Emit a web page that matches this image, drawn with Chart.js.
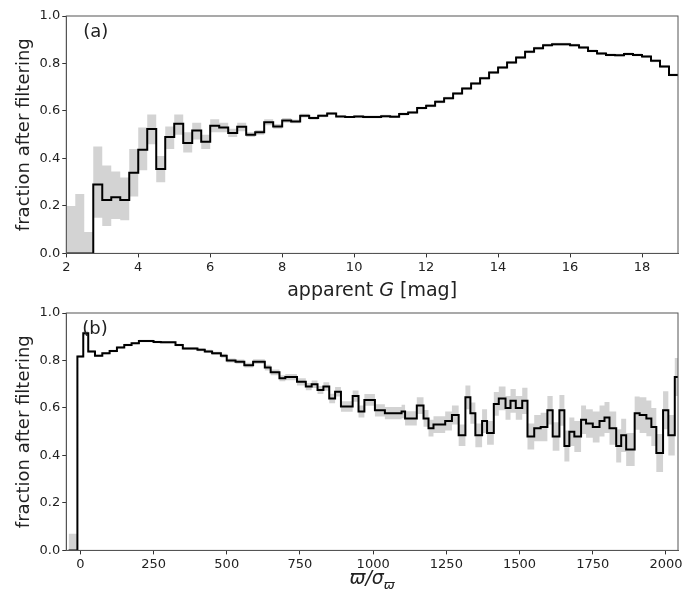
<!DOCTYPE html>
<html>
<head>
<meta charset="utf-8">
<script src="https://cdn.jsdelivr.net/npm/chart.js@4.4.1/dist/chart.umd.min.js"></script>
<style>
  body { margin: 0; background: #fff; }
  .panel { position: absolute; left: 0; width: 686px; height: 300px; }
</style>
</head>
<body>
<div class="panel" style="top:0"><canvas id="chartA"></canvas></div>
<div class="panel" style="top:297px"><canvas id="chartB"></canvas></div>
<script>
// panel (a): apparent G, bins of 0.25 mag starting at 2.0
const gStart = 2.0;
const gWidth = 0.25;
const gFrac = [0, 0, 0, 0.29, 0.225, 0.237, 0.225, 0.34, 0.437, 0.524, 0.355, 0.49, 0.546, 0.465, 0.518, 0.47,
  0.538, 0.53, 0.507, 0.533, 0.50, 0.51, 0.552, 0.535, 0.56, 0.556, 0.58, 0.57, 0.58, 0.589, 0.577, 0.575,
  0.577, 0.575, 0.575, 0.578, 0.576, 0.587, 0.594, 0.612, 0.622, 0.639, 0.654, 0.674, 0.695, 0.716, 0.738, 0.762,
  0.783, 0.804, 0.825, 0.849, 0.864, 0.877, 0.881, 0.881, 0.877, 0.867, 0.853, 0.842, 0.836, 0.835, 0.84, 0.836,
  0.829, 0.811, 0.787, 0.752];
const gLow = [0, 0, 0, 0.15, 0.115, 0.145, 0.14, 0.24, 0.35, 0.46, 0.30, 0.44, 0.50, 0.425, 0.48, 0.44,
  0.51, 0.51, 0.49, 0.515, 0.49, 0.50, 0.54, 0.525, 0.55, 0.548, 0.572, 0.563, 0.574, 0.583, 0.572, 0.571];
const gHigh = [0.20, 0.25, 0.09, 0.45, 0.37, 0.345, 0.32, 0.44, 0.53, 0.585, 0.41, 0.535, 0.585, 0.51, 0.55, 0.50,
  0.565, 0.55, 0.525, 0.55, 0.51, 0.52, 0.565, 0.545, 0.57, 0.564, 0.588, 0.577, 0.586, 0.595, 0.582, 0.579];

// panel (b): parallax over error, irregular bins (left edges + final right edge)
const pEdges = [-40, -10, 10, 27, 50, 75, 100, 125, 150, 175, 200, 250, 275, 325, 350, 400, 425, 450, 480, 500,
  530, 560, 590, 630, 650, 680, 700, 740, 770, 790, 810, 830, 850, 870, 890, 910, 930, 950, 970, 1006,
  1040, 1097, 1109, 1149, 1172, 1189, 1206, 1246, 1269, 1292, 1315, 1332, 1349, 1372, 1389, 1412, 1429, 1452, 1469, 1487,
  1509, 1527, 1550, 1572, 1595, 1613, 1636, 1653, 1670, 1687, 1710, 1727, 1750, 1773, 1790, 1807, 1830, 1847, 1864, 1893,
  1910, 1933, 1950, 1967, 1990, 2008, 2030, 2045];
const pFrac = [0, 0.817, 0.915, 0.838, 0.82, 0.83, 0.84, 0.855, 0.865, 0.873, 0.882, 0.878, 0.877, 0.865, 0.85, 0.845,
  0.838, 0.83, 0.82, 0.80, 0.795, 0.78, 0.795, 0.77, 0.75, 0.725, 0.73, 0.71, 0.69, 0.70, 0.676, 0.69,
  0.64, 0.668, 0.606, 0.606, 0.65, 0.585, 0.634, 0.59, 0.578, 0.585, 0.556, 0.61, 0.556, 0.515, 0.53, 0.545,
  0.57, 0.485, 0.645, 0.578, 0.485, 0.545, 0.495, 0.617, 0.64, 0.60, 0.63, 0.60, 0.63, 0.48, 0.515, 0.52,
  0.59, 0.48, 0.59, 0.44, 0.50, 0.48, 0.55, 0.535, 0.52, 0.545, 0.56, 0.515, 0.44, 0.485, 0.425, 0.578,
  0.57, 0.556, 0.52, 0.41, 0.59, 0.485, 0.73];
const pErr = [0.07, 0.005, 0.01, 0.005, 0.005, 0.005, 0.005, 0.005, 0.005, 0.005, 0.005, 0.005, 0.005, 0.005, 0.006, 0.006,
  0.007, 0.007, 0.008, 0.008, 0.009, 0.01, 0.01, 0.012, 0.012, 0.013, 0.013, 0.015, 0.015, 0.016, 0.017, 0.018,
  0.02, 0.02, 0.022, 0.022, 0.024, 0.025, 0.025, 0.026, 0.026, 0.028, 0.03, 0.035, 0.035, 0.035, 0.035, 0.04,
  0.04, 0.045, 0.05, 0.045, 0.05, 0.05, 0.05, 0.05, 0.05, 0.05, 0.05, 0.05, 0.055, 0.055, 0.055, 0.06,
  0.06, 0.06, 0.065, 0.065, 0.06, 0.065, 0.06, 0.06, 0.065, 0.065, 0.065, 0.07, 0.07, 0.07, 0.07, 0.07,
  0.075, 0.075, 0.08, 0.08, 0.08, 0.085, 0.08];

const yTicks = [0, 0.2, 0.4, 0.6, 0.8, 1.0];
const gTicks = [2, 4, 6, 8, 10, 12, 14, 16, 18];
const pTicks = [0, 250, 500, 750, 1000, 1250, 1500, 1750, 2000];

function stepPoints(edges, vals) {
  const pts = vals.map((v, i) => ({ x: edges[i], y: v }));
  pts.push({ x: edges[vals.length], y: vals[vals.length - 1] });
  return pts;
}

const gEdges = gFrac.map((_, i) => gStart + i * gWidth).concat([gStart + gFrac.length * gWidth]);
const gLo = gFrac.map((v, i) => i < gLow.length ? gLow[i] : v - 0.006);
const gHi = gFrac.map((v, i) => i < gHigh.length ? gHigh[i] : v + 0.006);
const pLo = pFrac.map((v, i) => i === 0 ? 0 : v - pErr[i]);
const pHi = pFrac.map((v, i) => i === 0 ? pErr[0] : v + pErr[i]);

const font = 'DejaVu Sans';

// draws the box, panel tag and the x title with italic parts
const frame = {
  id: 'frame',
  afterDraw(chart, args, opts) {
    const { ctx, chartArea: a } = chart;
    ctx.save();
    ctx.strokeStyle = '#555';
    ctx.lineWidth = 1;
    ctx.strokeRect(a.left, a.top, a.right - a.left, a.bottom - a.top);
    ctx.fillStyle = '#222';
    ctx.font = '18px ' + font;
    ctx.fillText(opts.tag, a.left + opts.tagX, a.top + 21);
    const parts = opts.title;
    const cx = (a.left + a.right) / 2;
    const y = a.bottom + opts.titleY;
    let total = 0;
    parts.forEach(p => { ctx.font = p[1]; total += ctx.measureText(p[0]).width; });
    let x = cx - total / 2;
    parts.forEach(p => {
      ctx.font = p[1];
      ctx.fillText(p[0], x, y + (p[2] || 0));
      x += ctx.measureText(p[0]).width;
    });
    ctx.restore();
  }
};

function makeChart(id, edges, vals, lo, hi, xMin, xMax, xTicks, title, titleY, tag, tagX) {
  new Chart(document.getElementById(id), {
    type: 'line',
    data: {
      datasets: [
        { data: stepPoints(edges, lo), stepped: 'before', borderWidth: 0, borderColor: 'rgba(0,0,0,0)',
          pointRadius: 0, fill: false, order: 2 },
        { data: stepPoints(edges, hi), stepped: 'before', borderWidth: 0, borderColor: 'rgba(0,0,0,0)',
          pointRadius: 0, fill: '-1', backgroundColor: '#d3d3d3', order: 1 },
        { data: stepPoints(edges, vals), stepped: 'before', borderColor: '#000', borderWidth: 2,
          pointRadius: 0, fill: false, order: 0 },
      ],
    },
    options: {
      responsive: false,
      animation: false,
      layout: { padding: { top: 16, right: 8, left: 12, bottom: 23 } },
      plugins: { legend: { display: false }, tooltip: { enabled: false },
        frame: { tag: tag, tagX: tagX, title: title, titleY: titleY } },
      scales: {
        x: {
          type: 'linear', min: xMin, max: xMax,
          afterBuildTicks: (s) => { s.ticks = xTicks.map(v => ({ value: v })); },
          grid: { drawOnChartArea: false, tickLength: 4, color: '#333' },
          border: { color: '#555' },
          ticks: { color: '#222', font: { family: font, size: 13 }, maxRotation: 0, padding: 2,
            callback: (v) => String(v) },
        },
        y: {
          min: 0, max: 1,
          afterBuildTicks: (s) => { s.ticks = yTicks.map(v => ({ value: v })); },
          grid: { drawOnChartArea: false, tickLength: 4, color: '#333' },
          border: { color: '#555' },
          ticks: { color: '#222', font: { family: font, size: 13 }, padding: 2, callback: (v) => v.toFixed(1) },
          title: { display: true, text: 'fraction after filtering', color: '#222', font: { family: font, size: 18 }, padding: 2 },
        },
      },
    },
    plugins: [frame],
  });
}

['chartA', 'chartB'].forEach(id => {
  document.getElementById(id).width = 686;
  document.getElementById(id).height = 300;
});

makeChart('chartA', gEdges, gFrac, gLo, gHi, 2, 19, gTicks,
  [['apparent ', '19px ' + font], ['G', 'italic 19px ' + font], [' [mag]', '19px ' + font]], 43, '(a)', 17);
makeChart('chartB', pEdges, pFrac, pLo, pHi, -48, 2041, pTicks,
  [['ϖ/σ', 'italic 19px ' + font], ['ϖ', 'italic 13px ' + font, 5]], 34, '(b)', 16);
</script>
</body>
</html>
